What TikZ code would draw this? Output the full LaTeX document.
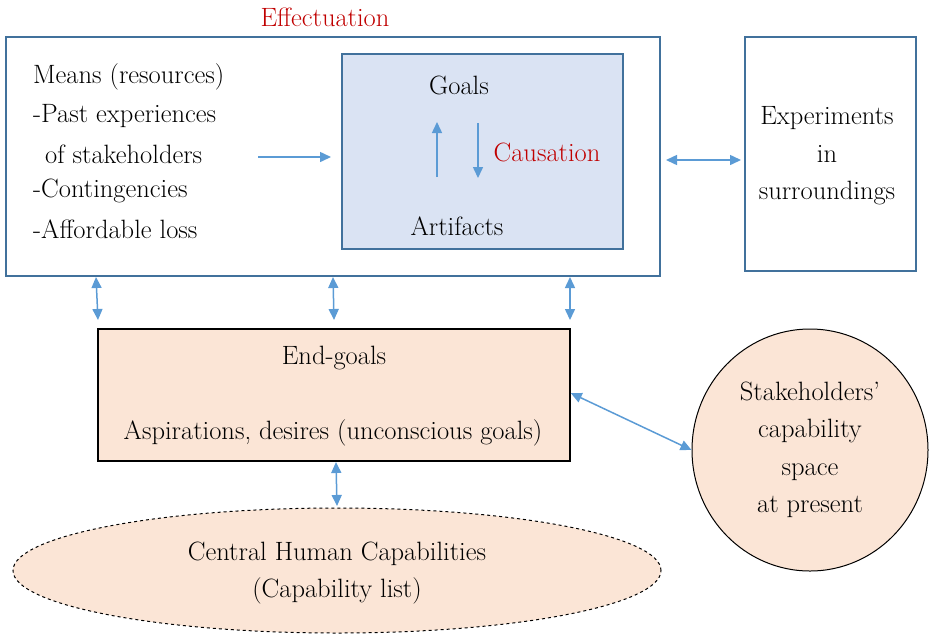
\documentclass[tikz,border=0pt]{standalone}
\usetikzlibrary{arrows.meta,shapes.geometric}
\definecolor{boxblue}{HTML}{41719C}
\definecolor{arrblue}{HTML}{5B9BD5}
\definecolor{lightblue}{HTML}{DAE3F3}
\definecolor{peach}{HTML}{FBE5D6}
\definecolor{darkred}{HTML}{C00000}
\begin{document}
\begin{tikzpicture}[x=1pt,y=-1pt,
  txt/.style={font=\fontsize{26.5}{37.5}\selectfont, inner sep=0pt},
  bluebox/.style={draw=boxblue, line width=1.5pt},
  conn/.style={draw=arrblue, line width=1.5pt, -{Triangle[length=11pt,width=10pt]}},
  dconn/.style={draw=arrblue, line width=1.5pt, {Triangle[length=11pt,width=10pt]}-{Triangle[length=11pt,width=10pt]}}]
\useasboundingbox (0,0) rectangle (929,633);
% title
\node[txt, text=darkred] (eff) at (325,17) {Effectuation};
% outer effectuation box
\node[bluebox, minimum width=654pt, minimum height=239pt, inner sep=0pt] (outer) at (333,156.5) {};
% inner causation box
\node[bluebox, fill=lightblue, minimum width=281pt, minimum height=195pt, inner sep=0pt] (inner) at (482.5,151.5) {};
\node[txt] (goals) at (459,85) {Goals};
\node[txt] (artifacts) at (457,226) {Artifacts};
\coordinate (upA) at (437,177);
\coordinate (upB) at (437,122);
\coordinate (dnA) at (478,123);
\coordinate (dnB) at (478,178);
\draw[conn] (upA) -- (upB);
\draw[conn] (dnA) -- (dnB);
\node[txt, text=darkred] (caus) at (547,152) {Causation};
% means text
\node[txt, anchor=west] (m1) at (33,77) {Means (resources)};
\node[txt, anchor=west] (m2) at (33,116) {-Past experiences};
\node[txt, anchor=west] (m3) at (45,154) {of stakeholders};
\node[txt, anchor=west] (m4) at (33,191) {-Contingencies};
\node[txt, anchor=west] (m5) at (33,229) {-Affordable loss};
\coordinate (mA) at (258,157);
\coordinate (mB) at (331,157);
\draw[conn] (mA) -- (mB);
% experiments box
\node[bluebox, minimum width=171pt, minimum height=234pt, inner sep=0pt] (exp) at (830.5,154) {};
\node[txt, align=center] (exptxt) at (827,156) {Experiments\\in\\surroundings};
\coordinate (eA) at (666,160);
\coordinate (eB) at (741,160);
\draw[dconn] (eA) -- (eB);
% end-goals box
\node[draw=black, line width=1.5pt, fill=peach, minimum width=472pt, minimum height=132pt, inner sep=0pt] (end) at (334,395) {};
\node[txt] (endg) at (334,358) {End-goals};
\node[txt] (asp) at (333,433) {Aspirations, desires (unconscious goals)};
% vertical arrows
\coordinate (v1a) at (96,277);
\coordinate (v1b) at (98,320);
\coordinate (v2a) at (333,277);
\coordinate (v2b) at (334,320);
\coordinate (v3a) at (570,277);
\coordinate (v3b) at (570,320);
\draw[dconn] (v1a) -- (v1b);
\draw[dconn] (v2a) -- (v2b);
\draw[dconn] (v3a) -- (v3b);
% dashed ellipse
\node[draw=black, dashed, line width=1pt, fill=peach, ellipse, minimum width=648pt, minimum height=125pt, inner sep=0pt] (chc) at (337,570.5) {};
\node[txt, align=center] (chctxt) at (337,573) {Central Human Capabilities\\(Capability list)};
\coordinate (bA) at (336,462);
\coordinate (bB) at (337,506);
\draw[dconn] (bA) -- (bB);
% stakeholders circle
\node[draw=black, line width=1pt, fill=peach, ellipse, minimum width=236pt, minimum height=242pt, inner sep=0pt] (stk) at (810,450) {};
\node[txt, align=center] (stktxt) at (810,450) {Stakeholders'\\capability\\space\\at present};
\draw[dconn] (end.east |- 0,393) -- (stk.west);
\end{tikzpicture}
\end{document}
